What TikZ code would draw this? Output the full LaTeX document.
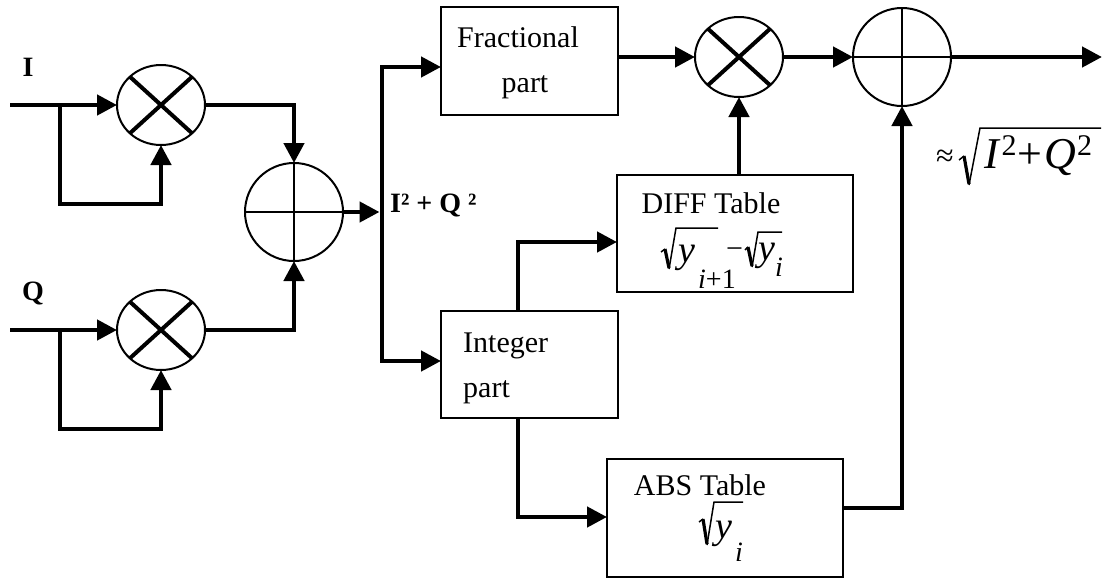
\documentclass[tikz,border=0pt]{standalone}
\usepackage{fontspec}
\setmainfont{Liberation Serif}
\usetikzlibrary{shapes.geometric,arrows.meta}
\newcommand{\fsz}[1]{\fontsize{#1}{#1}\selectfont}
\begin{document}
\begin{tikzpicture}[x=1pt,y=-1pt,
  mult/.style={ellipse, draw, line width=2pt, minimum width=88pt, minimum height=80pt, inner sep=0pt, outer sep=0pt},
  summ/.style={circle, draw, line width=2pt, minimum size=98pt, inner sep=0pt, outer sep=0pt},
  blk/.style={rectangle, draw, line width=2.5pt, inner sep=0pt, outer sep=0pt},
  conn/.style={line width=4.5pt, -{Triangle[length=20pt,width=20pt]}},
  xline/.style={line width=4pt},
  pline/.style={line width=1.5pt},
  radthin/.style={line width=1.5pt, line join=miter},
  radtick/.style={line width=3.2pt},
  txt/.style={inner sep=0pt, anchor=base, font=\fontsize{30}{36}\selectfont},
  math/.style={inner sep=0pt, anchor=base west, font=\fsz{38}\itshape},
  sub/.style={inner sep=0pt, anchor=base west, font=\fsz{28}},
  lbl/.style={inner sep=0pt, anchor=base, font=\bfseries\fontsize{28}{34}\selectfont}
]
\useasboundingbox (0,0) rectangle (1103,579);

% operators
\node[mult] (m1) at (161,105) {};
\node[mult] (m2) at (161,330) {};
\node[mult] (m3) at (739,57) {};
\node[summ] (s1) at (294,212) {};
\node[summ] (s2) at (902,57) {};
\foreach \m in {m1,m2,m3}{
  \draw[xline] (\m.north west) -- (\m.south east) (\m.north east) -- (\m.south west);
}
\foreach \s in {s1,s2}{
  \draw[pline] (\s.north) -- (\s.south) (\s.west) -- (\s.east);
}

% blocks
\node[blk, minimum width=177pt, minimum height=108pt] (frac) at (529.5,61) {};
\node[blk, minimum width=177pt, minimum height=107pt] (int) at (529.5,364.5) {};
\node[blk, minimum width=236pt, minimum height=117pt] (diff) at (735,233.5) {};
\node[blk, minimum width=236pt, minimum height=118pt] (abs) at (725,518) {};

% texts
\node[txt] (tfrac1) at (518,47) {Fractional};
\node[txt] (tfrac2) at (525,92) {part};
\node[txt, anchor=base west] (tint1) at (463,352) {Integer};
\node[txt, anchor=base west] (tint2) at (463,397) {part};
\node[txt] (tdiff) at (711,213) {DIFF Table};
\node[txt] (tabs) at (700,495) {ABS Table};

% DIFF formula
\draw[radthin] (661,252) -- (665,249);
\draw[radtick] (665,249) -- (669,268);
\draw[radthin] (669,269) -- (676,228) -- (718,228);
\node[math] (dy1) at (678,262) {y};
\node[sub] (dsub1) at (698,288) {\textit{i}+1};
\node[sub, font=\fsz{30}] (dminus) at (726,258) {−};
\draw[radthin] (745,250) -- (748,247);
\draw[radtick] (748,247) -- (752,266);
\draw[radthin] (752,267) -- (758,232) -- (782,232);
\node[math] (dy2) at (758,260) {y};
\node[sub, font=\fsz{28}\itshape] (dsub2) at (775,276) {i};

% ABS formula
\draw[radthin] (699,522) -- (703,519);
\draw[radtick] (703,519) -- (707,544);
\draw[radthin] (707,545) -- (714,502) -- (743,502);
\node[math] (ay) at (715,538) {y};
\node[sub, font=\fsz{28}\itshape] (asub) at (735,561) {i};

% labels
\node[lbl] (li) at (28,76) {I};
\node[lbl] (lq) at (33,300) {Q};
\node[inner sep=0pt, anchor=base west, font=\bfseries\fontsize{28}{32}\selectfont] (lsum) at (390,212) {I² + Q ²};
\node[inner sep=0pt, anchor=base west, font=\fsz{32}] (lapprox) at (936,166) {≈};
\draw[radthin] (959,160) -- (964,156);
\draw[radtick] (964,156) -- (969,184);
\draw[radthin] (969,185) -- (980,128) -- (1101,128);
\node[inner sep=0pt, anchor=base west, font=\fsz{44}] (lres) at (984,168)
  {\textit{I}\kern1pt\raisebox{13pt}{\fsz{30}2}\kern1pt+\kern2pt\textit{Q}\kern1pt\raisebox{13pt}{\fsz{30}2}};

% coordinates
\coordinate (iin) at (10,105);
\coordinate (ib) at (60,105);
\coordinate (ifb) at (60,204);
\coordinate (qin) at (10,330);
\coordinate (qb) at (60,330);
\coordinate (qfb) at (60,429);
\coordinate (j) at (382,212);
\coordinate (bt) at (382,67);
\coordinate (bb) at (382,361);
\coordinate (out) at (1102,57);

% connectors
\draw[conn] (iin) -- (m1.west);
\draw[conn] (ib) -- (ifb) -| (m1.south);
\draw[conn] (qin) -- (m2.west);
\draw[conn] (qb) -- (qfb) -| (m2.south);
\draw[conn] (m1.east) -| (s1.north);
\draw[conn] (m2.east) -| (s1.south);
\draw[conn] (s1.east) -- ([xshift=-2.5pt]j);
\draw[conn] (j) |- (frac.west |- bt);
\draw[conn] (j) |- (int.west |- bb);
\draw[conn] ([xshift=-11.5pt]int.north) |- ([yshift=-8.5pt]diff.west);
\draw[conn] ([xshift=-11.5pt]int.south) |- ([yshift=1pt]abs.west);
\draw[conn] (frac.east |- m3.west) -- (m3.west);
\draw[conn] (diff.north -| m3.south) -- (m3.south);
\draw[conn] (m3.east) -- (s2.west);
\draw[conn] (s2.east) -- (out);
\draw[conn] ([yshift=10pt]abs.east) -| (s2.south);
\end{tikzpicture}
\end{document}
